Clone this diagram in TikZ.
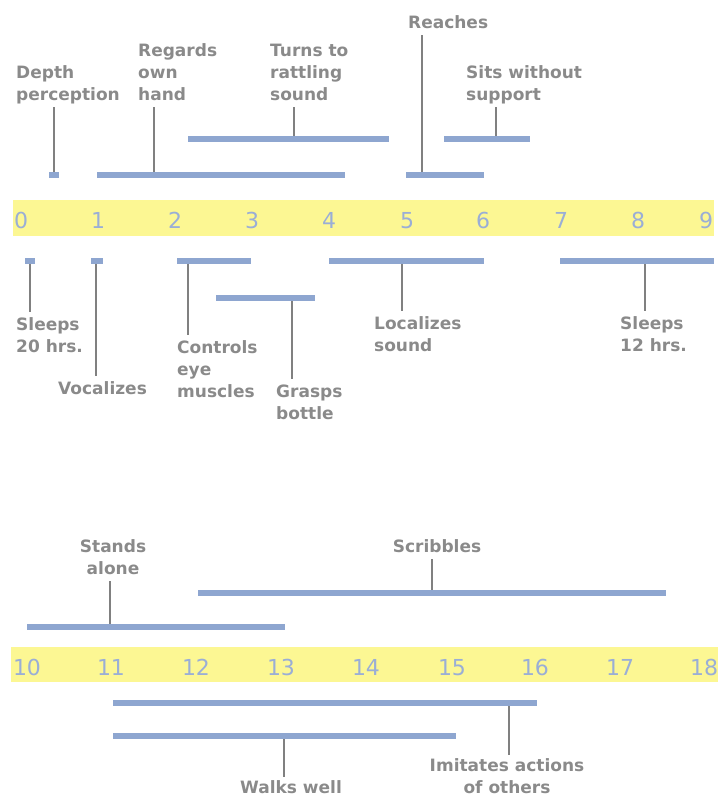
\documentclass[tikz,border=0pt]{standalone}
\usepackage{fontspec}
\setmainfont{DejaVu Sans}
\definecolor{bandyellow}{HTML}{FCF793}
\definecolor{barblue}{HTML}{8EA6D0}
\definecolor{labgray}{HTML}{8A8A8A}
\definecolor{numblue}{HTML}{9AAED6}
\definecolor{leadgray}{HTML}{808080}

\begin{document}
\begin{tikzpicture}[x=1pt,y=-1pt,
  lab/.style={font=\fontsize{17}{22}\selectfont\bfseries,text=labgray,inner sep=0pt,align=left,anchor=base west},
  clab/.style={lab,align=center,anchor=base},
  num/.style={font=\fontsize{22}{22}\selectfont,text=numblue,inner sep=0pt,anchor=base},
  bar/.style={line width=5.5pt,barblue},
  lead/.style={line width=1.4pt,leadgray}]
  \useasboundingbox (0,0) rectangle (718,796);

  % months 0-9
  \fill[bandyellow] (13,200) rectangle (714,236);
  \node[num] (n0) at (21,228) {0};   \node[num] (n1) at (98,228) {1};
  \node[num] (n2) at (175,228) {2};  \node[num] (n3) at (252,228) {3};
  \node[num] (n4) at (329,228) {4};  \node[num] (n5) at (407,228) {5};
  \node[num] (n6) at (483,228) {6};  \node[num] (n7) at (561,228) {7};
  \node[num] (n8) at (638,228) {8};  \node[num] (n9) at (706,228) {9};

  % labels sit on the baseline of their last line
  \node[lab] (dplab) at (16,100) {Depth\\perception\strut};
  \node[lab] (rhlab) at (138,100) {Regards\\own\\hand\strut};
  \node[lab] (trlab) at (270,100) {Turns to\\rattling\\sound\strut};
  \node[lab] (relab) at (408,28) {Reaches\strut};
  \node[lab] (swlab) at (466,100) {Sits without\\support\strut};
  \coordinate (dp) at (54,175);  \coordinate (rh) at (154,175);
  \coordinate (tr) at (294,139); \coordinate (re) at (422,175);
  \coordinate (sw) at (496,139);
  \draw[lead] (dp) -- (dp |- dplab.south);
  \draw[lead] (rh) -- (rh |- rhlab.south);
  \draw[lead] (tr) -- (tr |- trlab.south);
  \draw[lead] (re) -- (re |- relab.south);
  \draw[lead] (sw) -- (sw |- swlab.south);
  \draw[bar] (49,175) -- (59,175);
  \draw[bar] (97,175) -- (345,175);
  \draw[bar] (188,139) -- (389,139);
  \draw[bar] (406,175) -- (484,175);
  \draw[bar] (444,139) -- (530,139);

  \node[lab] (s20lab) at (16,352) {\strut Sleeps\\20 hrs.};
  \node[lab] (voclab) at (58,394) {\strut Vocalizes};
  \node[lab] (ctllab) at (177,397) {\strut Controls\\eye\\muscles};
  \node[lab] (grblab) at (276,419) {\strut Grasps\\bottle};
  \node[lab] (loclab) at (374,351) {\strut Localizes\\sound};
  \node[lab] (s12lab) at (620,351) {\strut Sleeps\\12 hrs.};
  \coordinate (s20) at (30,261);  \coordinate (voc) at (96,261);
  \coordinate (ctl) at (188,261); \coordinate (grb) at (292,298);
  \coordinate (loc) at (402,261); \coordinate (s12) at (645,261);
  \draw[lead,shorten >=2pt] (s20) -- (s20 |- s20lab.north);
  \draw[lead,shorten >=2pt] (voc) -- (voc |- voclab.north);
  \draw[lead,shorten >=2pt] (ctl) -- (ctl |- ctllab.north);
  \draw[lead,shorten >=2pt] (grb) -- (grb |- grblab.north);
  \draw[lead,shorten >=2pt] (loc) -- (loc |- loclab.north);
  \draw[lead,shorten >=2pt] (s12) -- (s12 |- s12lab.north);
  \draw[bar] (25,261) -- (35,261);
  \draw[bar] (91,261) -- (103,261);
  \draw[bar] (177,261) -- (251,261);
  \draw[bar] (216,298) -- (315,298);
  \draw[bar] (329,261) -- (484,261);
  \draw[bar] (560,261) -- (714,261);

  % months 10-18
  \fill[bandyellow] (11,647) rectangle (718,682);
  \node[num] (n10) at (27,675) {10};  \node[num] (n11) at (111,675) {11};
  \node[num] (n12) at (196,675) {12}; \node[num] (n13) at (281,675) {13};
  \node[num] (n14) at (366,675) {14}; \node[num] (n15) at (452,675) {15};
  \node[num] (n16) at (535,675) {16}; \node[num] (n17) at (620,675) {17};
  \node[num] (n18) at (704,675) {18};

  \node[clab] (stalab) at (113,574) {Stands\\alone\strut};
  \node[clab] (scrlab) at (437,552) {Scribbles\strut};
  \node[clab] (imilab) at (507,793) {\strut Imitates actions\\of others};
  \node[clab] (wlklab) at (291,793) {Walks well};
  \coordinate (sta) at (110,627); \coordinate (scr) at (432,593);
  \coordinate (imi) at (509,703); \coordinate (wlk) at (284,736);
  \draw[lead] (sta) -- (sta |- stalab.south);
  \draw[lead] (scr) -- (scr |- scrlab.south);
  \draw[lead] (imi) -- (imi |- imilab.north);
  \draw[lead,shorten >=3pt] (wlk) -- (wlk |- wlklab.north);
  \draw[bar] (27,627) -- (285,627);
  \draw[bar] (198,593) -- (666,593);
  \draw[bar] (113,703) -- (537,703);
  \draw[bar] (113,736) -- (456,736);
\end{tikzpicture}
\end{document}
